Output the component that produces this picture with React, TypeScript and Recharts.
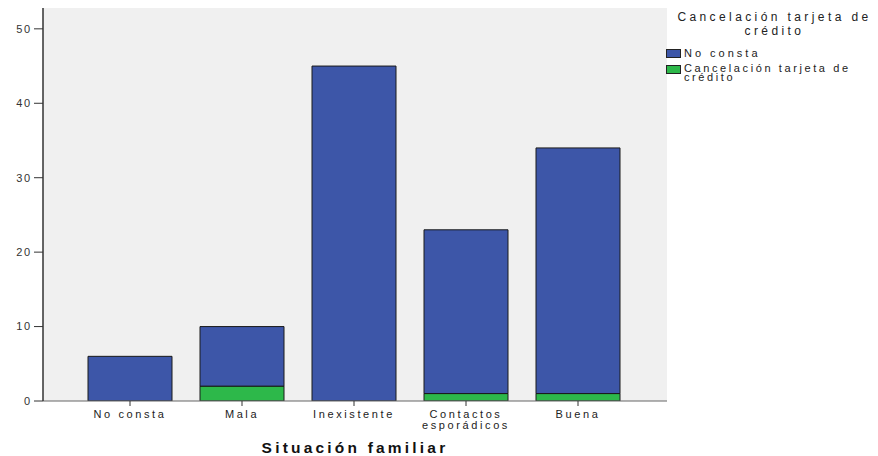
import React from "react";
import { BarChart, Bar, XAxis, YAxis, CartesianGrid, Legend } from "recharts";

const categories = ["No consta", "Mala", "Inexistente", "Contactos esporádicos", "Buena"];
const noConstaValues = [6, 8, 45, 22, 33];
const cancelacionValues = [0, 2, 0, 1, 1];
const yTicks = [0, 10, 20, 30, 40, 50];

const BLUE = "#3d56a8";
const GREEN = "#2db84a";
const FONT = '"Liberation Sans", Arial, Helvetica, sans-serif';

const data = categories.map((name, i) => ({
  name,
  cancelacion: cancelacionValues[i],
  noConsta: noConstaValues[i],
}));

const XTick = (props: any) => {
  const { x, y, payload } = props;
  const lines =
    payload.value === "Contactos esporádicos" ? ["Contactos", "esporádicos"] : [payload.value];
  return (
    <text
      x={x}
      y={y}
      textAnchor="middle"
      fill="#222"
      fontSize={11}
      fontFamily={FONT}
      style={{ letterSpacing: 2.6 }}
    >
      {lines.map((l, i) => (
        <tspan key={l} x={x} dy={i === 0 ? 10 : 11}>
          {l}
        </tspan>
      ))}
    </text>
  );
};

const LegendContent = (props: any) => {
  const items = [...(props.payload || [])].reverse();
  return (
    <div style={{ position: "relative", height: 90, fontFamily: FONT, color: "#222" }}>
      <div
        style={{
          position: "absolute",
          top: 11,
          left: 2,
          width: "100%",
          textAlign: "center",
          fontSize: 12,
          lineHeight: "13.5px",
          letterSpacing: 3.4,
        }}
      >
        <div>Cancelación tarjeta de</div>
        <div>crédito</div>
      </div>
      {items.map((it: any, i: number) => (
        <div
          key={it.value}
          style={{ position: "absolute", top: i === 0 ? 47 : 62, left: -1, display: "flex" }}
        >
          <div
            style={{
              width: 15,
              height: 9,
              marginTop: i === 0 ? 2 : 3,
              background: it.color,
              border: "1px solid #222",
              boxSizing: "border-box",
            }}
          />
          <div
            style={{
              marginLeft: 3,
              width: 185,
              fontSize: 11,
              lineHeight: "9px",
              letterSpacing: i === 0 ? 3 : 2.6,
              paddingTop: 2,
            }}
          >
            {it.value}
          </div>
        </div>
      ))}
    </div>
  );
};

export default function App() {
  return (
    <div style={{ position: "absolute", left: 0, top: 0, background: "#fff" }}>
      <BarChart
        width={878}
        height={456}
        data={data}
        margin={{ top: 8, right: 0, bottom: 0, left: 0 }}
        barSize={84}
      >
        <CartesianGrid fill="#f0f0f0" horizontal={false} vertical={false} />
        <XAxis
          dataKey="name"
          height={55}
          padding={{ left: 31, right: 33 }}
          tickLine={{ stroke: "#333" }}
          tickSize={5}
          tickMargin={2}
          axisLine={{ stroke: "#666" }}
          tick={<XTick />}
          interval={0}
          label={{
            value: "Situación familiar",
            position: "insideBottom",
            offset: 3,
            style: {
              fontFamily: FONT,
              fontSize: 15.5,
              fontWeight: "bold",
              fill: "#111",
              letterSpacing: 3.2,
            },
          }}
        />
        <XAxis xAxisId="top" orientation="top" height={0} tick={false} axisLine={{ stroke: "#aaa" }} />
        <YAxis
          width={43}
          domain={[0, 52.8]}
          ticks={yTicks}
          allowDataOverflow
          tickSize={9}
          tickMargin={2}
          tickLine={{ stroke: "#333" }}
          axisLine={{ stroke: "#333", strokeWidth: 1.5 }}
          tick={{ fill: "#333", fontSize: 11, fontFamily: FONT, letterSpacing: 1.8 }}
        />
        <YAxis yAxisId="right" orientation="right" width={0} tick={false} axisLine={{ stroke: "#aaa" }} />
        <Legend
          layout="vertical"
          align="right"
          verticalAlign="top"
          wrapperStyle={{ top: 0, right: 0, width: 211 }}
          content={<LegendContent />}
        />
        <Bar
          dataKey="cancelacion"
          name="Cancelación tarjeta de crédito"
          stackId="a"
          fill={GREEN}
          stroke="#1a1a1a"
          strokeWidth={1}
          isAnimationActive={false}
        />
        <Bar
          dataKey="noConsta"
          name="No consta"
          stackId="a"
          fill={BLUE}
          stroke="#1a1a1a"
          strokeWidth={1}
          isAnimationActive={false}
        />
      </BarChart>
    </div>
  );
}
